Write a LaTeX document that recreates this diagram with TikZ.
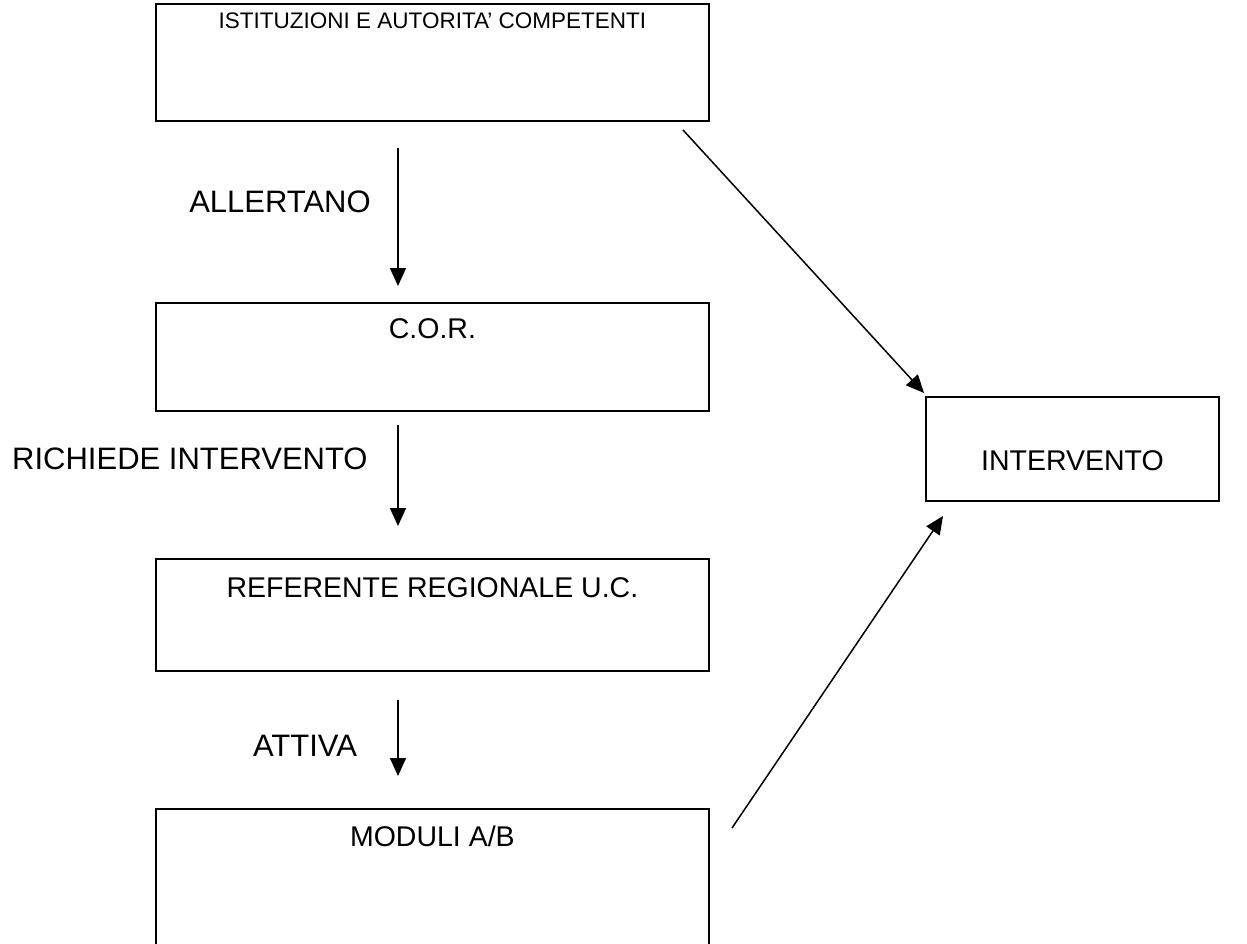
\documentclass[tikz,border=0pt]{standalone}
\usepackage{fontspec}
\setmainfont{Liberation Sans}
\usetikzlibrary{arrows.meta}
\tikzset{
  box/.style={draw, line width=1.8pt, rectangle, inner xsep=0pt, inner ysep=0pt, anchor=north west, align=center},
  conn/.style={line width=1.5pt, -{Triangle[length=18pt,width=16pt]}},
  lbl/.style={font=\fontsize{31}{36}\selectfont, inner sep=0pt}
}
\begin{document}
\begin{tikzpicture}[x=1pt,y=-1pt]
\useasboundingbox (0,0) rectangle (1247,944);
\clip (0,0) rectangle (1247,944);
\node[box, minimum width=553pt, text height=25pt, text depth=92pt, font=\fontsize{22.5}{26}\selectfont] (b1) at (155,3) {ISTITUZIONI E AUTORITA’ COMPETENTI};
\node[box, minimum width=553pt, text height=36pt, text depth=72pt, font=\fontsize{28.5}{34}\selectfont] (b2) at (155,302) {C.O.R.};
\node[box, minimum width=553pt, text height=39pt, text depth=73pt, font=\fontsize{28.5}{34}\selectfont] (b3) at (155,558) {REFERENTE REGIONALE U.C.};
\node[box, minimum width=553pt, text height=38pt, text depth=114pt, font=\fontsize{28.5}{34}\selectfont] (b4) at (155,808) {MODULI A/B};
\node[box, minimum width=293pt, text height=74pt, text depth=30pt, font=\fontsize{28.5}{34}\selectfont] (b5) at (925,396) {INTERVENTO};

\coordinate (a1s) at (398,148); \coordinate (a1e) at (398,286);
\coordinate (a2s) at (398,425); \coordinate (a2e) at (398,526);
\coordinate (a3s) at (398,700); \coordinate (a3e) at (398,776);
\coordinate (d1s) at (683,130); \coordinate (d1e) at (924,393);
\coordinate (d2s) at (732,828); \coordinate (d2e) at (943,516);
\draw[conn] (a1s) -- (a1e);
\draw[conn] (a2s) -- (a2e);
\draw[conn] (a3s) -- (a3e);
\draw[conn] (d1s) -- (d1e);
\draw[conn] (d2s) -- (d2e);

\node[lbl] (l1) at (280,202) {ALLERTANO};
\node[lbl, anchor=west] (l2) at (12,459) {RICHIEDE INTERVENTO};
\node[lbl] (l3) at (305,746) {ATTIVA};
\end{tikzpicture}
\end{document}
